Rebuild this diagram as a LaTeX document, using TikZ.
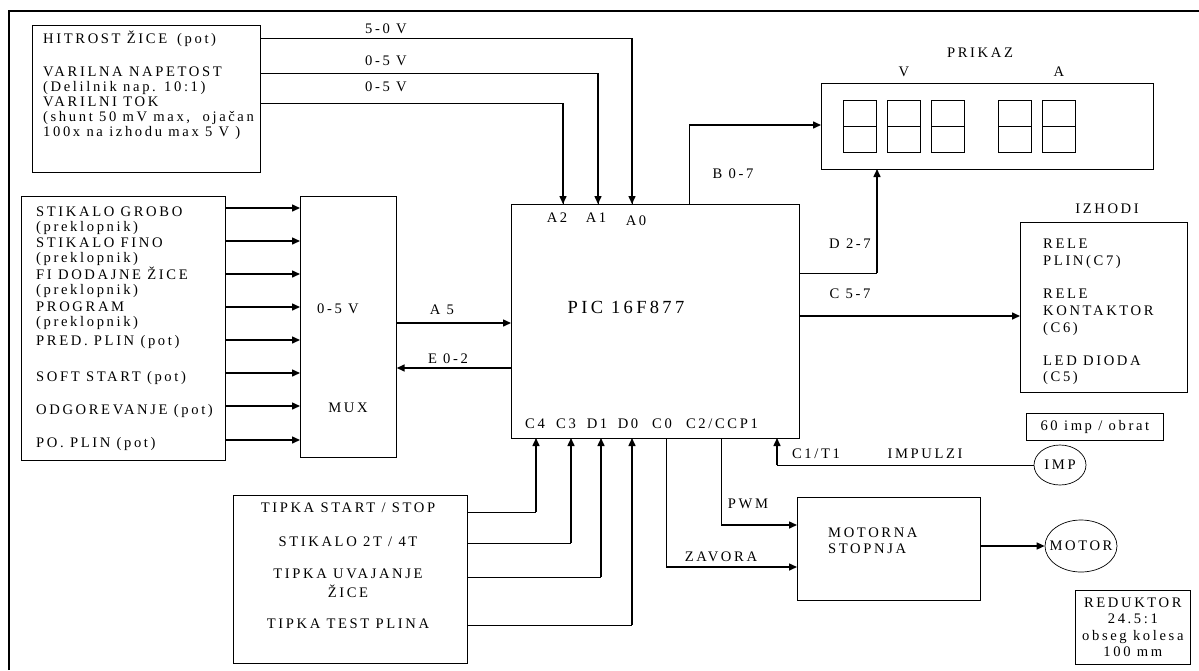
\documentclass[tikz,border=0pt]{standalone}
\usepackage{fontspec}
\setmainfont{Liberation Serif}[LetterSpace=18]
\usetikzlibrary{arrows.meta,shapes.geometric}
\newcommand\fs{\fontsize{14.6}{16.5}\selectfont}
\begin{document}
\begin{tikzpicture}[x=1pt,y=-1pt,
  every node/.style={inner sep=0pt, font=\fs},
  box/.style={draw, line width=0.7pt, anchor=north west},
  oval/.style={draw, line width=0.7pt, ellipse},
  conn/.style={line width=0.7pt},
  arr/.style={line width=1.5pt, -{Triangle[length=8pt,width=7pt]}},
  lbl/.style={anchor=base west},
  clbl/.style={anchor=base}]
\useasboundingbox (0,0) rectangle (1199,670);
% frame
\draw[line width=1.2pt] (9,670) -- (9,11) -- (1199,11);

% ---------- boxes ----------
\node[box, minimum width=228pt, minimum height=147pt] (tl) at (32,25) {};
\node[box, minimum width=204pt, minimum height=264pt] (sw) at (21,196) {};
\node[box, minimum width=96pt, minimum height=261pt] (mux) at (300,196) {};
\node[box, minimum width=288pt, minimum height=234pt] (pic) at (511,204) {};
\node[box, minimum width=332pt, minimum height=86pt] (prikaz) at (821,83) {};
\node[box, minimum width=167pt, minimum height=170pt] (izh) at (1020,222) {};
\node[box, minimum width=137pt, minimum height=27pt] (imptxt) at (1026,413) {};
\node[oval, minimum width=52pt, minimum height=40pt] (imp) at (1060,465) {};
\node[box, minimum width=234pt, minimum height=168pt] (btn) at (233,495) {};
\node[box, minimum width=183pt, minimum height=103pt] (mot) at (797,497) {};
\node[oval, minimum width=72pt, minimum height=52pt] (motor) at (1081,546) {};
\node[box, minimum width=115pt, minimum height=74pt] (red) at (1075,590) {};

% digits
\foreach \x/\n in {843/d1,887/d2,931/d3,998/d4,1042/d5}{
  \node[box, minimum width=33pt, minimum height=52pt] (\n) at (\x,100) {};
  \draw[conn] (\n.west) -- (\n.east);
}

% ---------- texts ----------
\node (timp) at (imp.center) {IMP};
\node (tmotor) at (motor.center) {MOTOR};

\node[lbl] (t1) at (43,43) {HITROST ŽICE\hspace{10pt}(pot)};
\node[lbl] (t2) at (43,76) {VARILNA NAPETOST};
\node[lbl] (t3) at (43,91) {(Delilnik nap. 10:1)};
\node[lbl] (t4) at (43,106) {VARILNI TOK};
\node[lbl] (t5) at (43,121) {(shunt 50 mV max,\ \ ojačan};
\node[lbl] (t6) at (43,136) {100x na izhodu max 5 V )};

\node[clbl] (v1) at (386,33) {5-0 V};
\node[clbl] (v2) at (386,65) {0-5 V};
\node[clbl] (v3) at (386,91) {0-5 V};

\node[lbl] (s1) at (36,216) {STIKALO GROBO};
\node[lbl] (s2) at (36,231) {(preklopnik)};
\node[lbl] (s3) at (36,247) {STIKALO FINO};
\node[lbl] (s4) at (36,262) {(preklopnik)};
\node[lbl] (s5) at (36,279) {FI DODAJNE ŽICE};
\node[lbl] (s6) at (36,294) {(preklopnik)};
\node[lbl] (s7) at (36,311) {PROGRAM};
\node[lbl] (s8) at (36,326) {(preklopnik)};
\node[lbl] (s9) at (36,345) {PRED. PLIN (pot)};
\node[lbl] (s10) at (36,381) {SOFT START (pot)};
\node[lbl] (s11) at (36,414) {ODGOREVANJE (pot)};
\node[lbl] (s12) at (36,447) {PO. PLIN (pot)};

\node[clbl] (m1) at (338,313) {0-5 V};
\node[clbl] (m2) at (348,412) {MUX};
\node[clbl] (la5) at (442,314) {A 5};
\node[clbl] (le) at (448,363) {E 0-2};

\node (pict) at (626,307) {\fontsize{18.5}{20}\selectfont PIC 16F877};
\node[clbl] (pa2) at (557,222) {A2};
\node[clbl] (pa1) at (596,222) {A1};
\node[clbl] (pa0) at (636,225) {A0};
\node[clbl] (pc4) at (535,428) {C4};
\node[clbl] (pc3) at (566,428) {C3};
\node[clbl] (pd1) at (597,428) {D1};
\node[clbl] (pd0) at (628,428) {D0};
\node[clbl] (pc0) at (662,428) {C0};
\node[clbl] (pc2) at (722,428) {C2/CCP1};

\node[clbl] (lb) at (733,178) {B 0-7};
\node[clbl] (ld) at (850,248) {D 2-7};
\node[clbl] (lc) at (850,298) {C 5-7};

\node[clbl] (tp) at (980,57) {PRIKAZ};
\node[clbl] (tv) at (904,76) {V};
\node[clbl] (ta) at (1059,76) {A};

\node[clbl] (ti) at (1107,213) {IZHODI};
\node[lbl] (i1) at (1043,248) {RELE};
\node[lbl] (i2) at (1043,265) {PLIN(C7)};
\node[lbl] (i3) at (1043,298) {RELE};
\node[lbl] (i4) at (1043,315) {KONTAKTOR};
\node[lbl] (i5) at (1043,332) {(C6)};
\node[lbl] (i6) at (1043,365) {LED DIODA};
\node[lbl] (i7) at (1043,381) {(C5)};

\node (t60) at (imptxt.center) {60 imp / obrat};
\node[clbl] (lc1) at (816,458) {C1/T1};
\node[clbl] (limp) at (925,458) {IMPULZI};
\node[clbl] (lpwm) at (748,508) {PWM};
\node[clbl] (lzav) at (721,561) {ZAVORA};
\node[lbl] (mo1) at (828,537) {MOTORNA};
\node[lbl] (mo2) at (828,553) {STOPNJA};

\node[clbl] (b1) at (348,512) {TIPKA START / STOP};
\node[clbl] (b2) at (348,546) {STIKALO 2T / 4T};
\node[clbl] (b3) at (348,578) {TIPKA UVAJANJE};
\node[clbl] (b4) at (348,597) {ŽICE};
\node[clbl] (b5) at (348,628) {TIPKA TEST PLINA};

\node[align=center, font=\fontsize{14.6}{16.5}\selectfont] (rt) at (red.center) {REDUKTOR\\24.5:1\\obseg kolesa\\100 mm};

% ---------- connectors ----------
\coordinate (pA0) at (632,204);
\coordinate (pA1) at (598,204);
\coordinate (pA2) at (563,204);
\draw[conn] (tl.east |- 0,38) -| (pA0);
\draw[arr] (pA0 |- 0,38) -- (pA0);
\draw[conn] (tl.east |- 0,73) -| (pA1);
\draw[arr] (pA1 |- 0,73) -- (pA1);
\draw[conn] (tl.east |- 0,103) -| (pA2);
\draw[arr] (pA2 |- 0,103) -- (pA2);

\foreach \y in {208,241,274,307,340,373,406,440}
  \draw[arr] (sw.east |- 0,\y) -- (mux.west |- 0,\y);

\draw[arr] (mux.east |- 0,323) -- (pic.west |- 0,323);
\draw[arr] (pic.west |- 0,368) -- (mux.east |- 0,368);

% B 0-7
\coordinate (pB) at (689,204);
\draw[conn] (pB) -- (689,125);
\draw[arr] (689,125) -- (prikaz.west |- 0,125);
% D 2-7
\coordinate (pD) at (877,169);
\draw[conn] (pic.east |- 0,273) -- (877,273);
\draw[arr] (877,273) -- (pD);
% C 5-7
\draw[arr] (pic.east |- 0,316) -- (izh.west |- 0,316);

% bottom buttons
\foreach \yy/\xx in {512/536,543/571,577/601,625/632}{
  \draw[conn] (btn.east |- 0,\yy) -- (\xx,\yy);
  \draw[arr] (\xx,\yy) -- (\xx,438);
}

% C0, C2
\draw[conn] (666,438) -- (666,567);
\draw[arr] (666,567) -- (mot.west |- 0,567);
\draw[conn] (721,438) -- (721,525);
\draw[arr] (721,525) -- (mot.west |- 0,525);

% C1/T1
\draw[conn] (imp.west) -- (777,465);
\draw[arr] (777,465) -- (777,438);

% motor
\draw[arr] (mot.east |- 0,546) -- (motor.west);
\end{tikzpicture}
\end{document}
